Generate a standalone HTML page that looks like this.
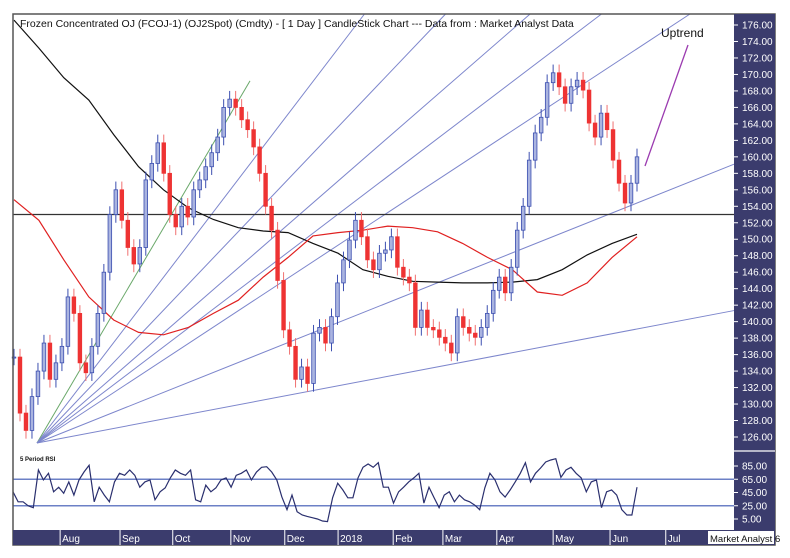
<!DOCTYPE html>
<html><head><meta charset="utf-8"><style>
html,body{margin:0;padding:0;background:#fff;}
svg{display:block;font-family:"Liberation Sans",Arial,sans-serif;}
</style></head><body>
<svg id="chart" width="790" height="558" viewBox="0 0 790 558" xmlns="http://www.w3.org/2000/svg">
<rect x="0" y="0" width="790" height="558" fill="#fff"/>
<g id="fan"></g>
<g id="mas"></g>
<g id="candles"></g>
<g id="rsi"></g>
<g id="axes"></g>
</svg>
<script>
const closes=[135.7,128.9,126.8,130.9,134,137.4,133,135,137,143,141,135,133.8,137,141,146,153,156,152.3,149,147,149,157.2,159.2,161.7,158,153,151.5,154,152.7,156,157.2,158.8,160.5,162.4,166,167,166,164.5,163.3,161.2,158,154,151.1,145,139,137,133,134.5,132.5,138.6,139.3,137.4,140.6,144.7,147.5,149.9,152.3,150.3,147.5,146.3,148.3,148.7,150.3,146.6,145.4,144.7,139.3,141.4,139.3,139,138.1,137.4,136.2,140.6,139.3,138.6,138.1,139.3,141,143.8,145.4,143.5,146.6,151.1,154,159.6,162.9,164.8,169,170.2,168.5,166.5,168.5,169.3,168.1,164.1,162.4,165.3,163.3,159.6,156.8,154.4,156.8,160];
const maLong=[176.6,173.2,169.6,166.9,162.7,158.8,156.0,153.8,152.4,151.4,151.0,150.8,149.5,148.3,146.3,145.5,144.9,144.8,144.7,144.7,144.8,145.1,146.3,148.1,149.5,150.6];
const maShort=[154.8,152.3,147.5,143.0,140.2,138.7,138.4,139.3,141.0,142.6,145.4,147.8,150.4,150.8,151.1,151.6,151.4,150.9,149.5,147.8,146.3,143.6,143.2,144.7,147.8,150.3];
const rsiVals=[46,31,31,25,22,79,64,74,46,53,44,61,41,64,76,86,31,53,41,31,61,74,71,79,71,53,61,64,34,46,52,67,79,74,71,79,34,31,56,46,52,64,67,53,71,74,79,64,76,83,84,76,64,38,19,41,16,11,9,7,5,2,1,37,59,49,37,37,67,83,88,83,90,53,53,29,46,53,61,67,74,29,53,37,22,41,46,31,41,34,31,26,19,52,74,64,46,38,49,61,74,90,61,74,82,91,94,96,68,79,83,74,67,46,61,64,22,46,49,41,19,11,11,53];
const fanSlopes=[1.70,1.31,1.05,0.87,0.76,0.657,0.40,0.19];
const priceTicks=[176,174,172,170,168,166,164,162,160,158,156,154,152,150,148,146,144,142,140,138,136,134,132,130,128,126];
const rsiTicks=[85,65,45,25,5];
const rsiLevels=[65,25];
const months=["Aug","Sep","Oct","Nov","Dec","2018","Feb","Mar","Apr","May","Jun","Jul"];
const monthIdx=[7.7,17.7,26.5,36.2,45.2,54.1,63.3,71.6,80.6,90.0,99.5,108.8];
const supportLevel=153.0;

const NS="http://www.w3.org/2000/svg";
const X0=14,X1=637,PL=13,PR=734;
const yP=p=>25+(176-p)*8.24;
const yR=v=>466+(85-v)*0.6625;
const n=closes.length;
const xI=i=>X0+i*(X1-X0)/(n-1);
function mk(tag,parent,attrs){const e=document.createElementNS(NS,tag);for(const k in attrs)e.setAttribute(k,attrs[k]);parent.appendChild(e);return e;}

const axes=document.getElementById('axes');
let f=mk('rect',axes,{x:PL,y:14,width:775-PL,height:531,fill:'none',stroke:'#555','stroke-width':1.5});


let t=mk('text',axes,{x:20,y:27,'font-size':10.5,fill:'#111'});
t.textContent="Frozen Concentrated OJ (FCOJ-1) (OJ2Spot) (Cmdty) -  [ 1 Day ] CandleStick Chart --- Data from : Market Analyst Data";



const fan=document.getElementById('fan');
const ox=37,oy=443;
fanSlopes.forEach((s,k)=>{
  let xe=PR, ye=oy-s*(PR-ox);
  if(ye<14){ye=14;xe=ox+(oy-14)/s;}
  if(s===1.70){xe=250;ye=oy-s*(250-ox);}
  const l=mk('line',fan,{x1:ox,y1:oy,x2:xe,y2:ye,stroke:s===1.70?'#6aa86a':'#7d86cc','stroke-width':1});
  
  
});
let sl=mk('line',fan,{x1:PL,y1:yP(supportLevel),x2:PR,y2:yP(supportLevel),stroke:'#333','stroke-width':1.2});


let up=mk('line',fan,{x1:645,y1:166,x2:688,y2:45,stroke:'#9b3bb0','stroke-width':1.3});


let ut=mk('text',fan,{x:661,y:37,'font-size':12,fill:'#111'});
ut.textContent="Uptrend";



const mas=document.getElementById('mas');
function maPath(arr,col,name){
  const m=arr.length;
  const d=arr.map((v,k)=>(k?'L':'M')+xI(k*(n-1)/(m-1)).toFixed(1)+','+yP(v).toFixed(1)).join(' ');
  const p=mk('path',mas,{d:d,fill:'none',stroke:col,'stroke-width':1.2});
  
  
}
maPath(maLong,'#111','long-moving-average');
maPath(maShort,'#e02020','short-moving-average');

const cg=document.getElementById('candles');
closes.forEach((c,i)=>{
  const o=i?closes[i-1]:c;
  const upC=c>=o;
  const x=xI(i);
  const hi=Math.max(o,c)+1.0, lo=Math.min(o,c)-1.0;
  const g=mk('g',cg,{});
  
  
  mk('line',g,{x1:x,y1:yP(hi),x2:x,y2:yP(lo),stroke:upC?'#3c4fb0':'#f07070','stroke-width':1});
  const top=yP(Math.max(o,c)),h=Math.max(1,yP(Math.min(o,c))-top);
  mk('rect',g,{x:x-1.8,y:top,width:3.6,height:h,fill:upC?'#aab4e0':'#ee3333',stroke:upC?'#3c4fb0':'#ee3333','stroke-width':0.8});
});

const rg=document.getElementById('rsi');
mk('line',rg,{x1:PL,y1:451,x2:775,y2:451,stroke:'#fff','stroke-width':1});
let rl=mk('text',rg,{x:20,y:461,'font-size':6,'font-weight':'bold',fill:'#111'});
rl.textContent="5 Period RSI";


rsiLevels.forEach(v=>{
  const l=mk('line',rg,{x1:PL,y1:yR(v),x2:PR,y2:yR(v),stroke:'#6c80c6','stroke-width':1.5});
  
  
});
const rn=rsiVals.length;
const rd=rsiVals.map((v,k)=>(k?'L':'M')+(13+k*(637-13)/(rn-1)).toFixed(1)+','+yR(v).toFixed(1)).join(' ');
let rp=mk('path',rg,{d:rd,fill:'none',stroke:'#2a2f6e','stroke-width':1.2});



let ra=mk('rect',axes,{x:PR,y:14,width:775-PR,height:516,fill:'#3b3c6d'});


mk('line',axes,{x1:PR,y1:451,x2:775,y2:451,stroke:'#fff','stroke-width':1.2});
priceTicks.forEach(p=>{
  mk('line',axes,{x1:PR,y1:yP(p),x2:PR+4,y2:yP(p),stroke:'#fff','stroke-width':1});
  const tx=mk('text',axes,{x:742,y:yP(p)+3.5,'font-size':10,fill:'#fff'});
  tx.textContent=p.toFixed(2);
  
  
});
rsiTicks.forEach(v=>{
  mk('line',axes,{x1:PR,y1:yR(v),x2:PR+4,y2:yR(v),stroke:'#fff','stroke-width':1});
  const tx=mk('text',axes,{x:742,y:yR(v)+3.5,'font-size':10,fill:'#fff'});
  tx.textContent=v.toFixed(2);
  
  
});

let ba=mk('rect',axes,{x:PL,y:530,width:775-PL,height:15,fill:'#3b3c6d'});


months.forEach((m,k)=>{
  const x=xI(monthIdx[k]);
  mk('line',axes,{x1:x,y1:530,x2:x,y2:545,stroke:'#fff','stroke-width':1});
  const tx=mk('text',axes,{x:x+2,y:542,'font-size':10,fill:'#fff'});
  tx.textContent=m;
  
  
});
let mb=mk('rect',axes,{x:708,y:531,width:66,height:13,fill:'#fff'});


let mt=mk('text',axes,{x:710,y:542,'font-size':9.5,fill:'#111'});
mt.textContent="Market Analyst 6";


</script>
</body></html>
